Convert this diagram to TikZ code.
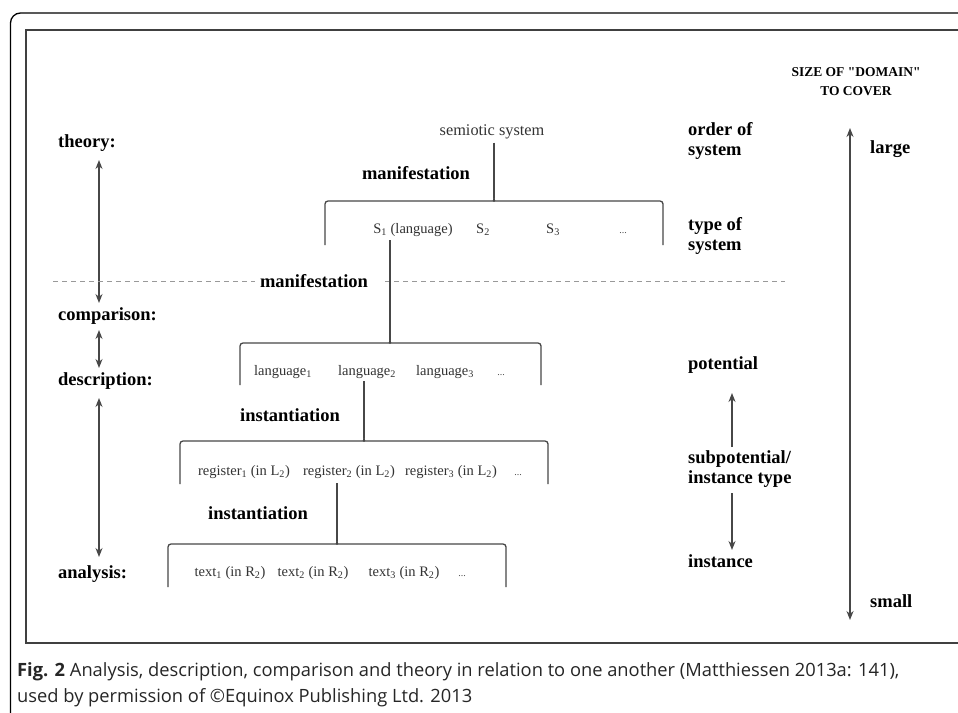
\documentclass[tikz,border=0pt]{standalone}
\usepackage{fontspec}
\setmainfont{Liberation Serif}
\newfontfamily\capfont{Open Sans}
\usetikzlibrary{arrows.meta}
\newcommand\lblfont{\fontsize{18.5}{20}\selectfont\bfseries}
\newcommand\rowfont{\fontsize{14.5}{16}\selectfont}
\newcommand\semfont{\fontsize{16.3}{17}\selectfont}
\newcommand\headfont{\fontsize{13.5}{19}\selectfont\bfseries}
\newcommand\sqt{\XeTeXglyph\XeTeXcharglyph"22\relax}
\newcommand\brkt[5]{%
  \draw[ln,rounded corners=3] (#1,#4) -- (#1,#3) -- (#5-3,#3) .. controls (#5-1,#3) and (#5,#3-1) .. (#5,#3-3);
  \draw[ln,rounded corners=3] (#2,#4) -- (#2,#3) -- (#5+3,#3) .. controls (#5+1,#3) and (#5,#3-1) .. (#5,#3-3);}
\begin{document}
\begin{tikzpicture}[x=1pt,y=-1pt,
  lbl/.style={font=\lblfont, inner sep=0, anchor=base west, text=black},
  mid/.style={font=\lblfont, inner sep=0, anchor=base, text=black},
  item/.style={font=\rowfont, inner sep=0, anchor=base, text=black!80},
  dots/.style={font=\fontsize{10}{12}\selectfont, inner sep=0, anchor=base, text=black!70},
  ln/.style={line width=1.3pt, draw=black!72},
  arr/.style={line width=1.3pt, draw=black!72, -{Stealth[length=9pt,width=7pt]}},
  arrs/.style={line width=1.3pt, draw=black!72, {Stealth[length=9pt,width=7pt]}-{Stealth[length=9pt,width=7pt]}},
  dsh/.style={line width=0.9pt, draw=black!40, dash pattern=on 5pt off 4pt}]
\useasboundingbox (0,0) rectangle (958,712);
\fill[white] (0,0) rectangle (958,712);
% frames
\draw[line width=1.3pt, rounded corners=10] (10.5,13) rectangle (1000,760);
\draw[line width=2pt, draw=black!75] (26,30) rectangle (1000,643);

% left labels
\node[lbl] (theory) at (58,147) {theory:};
\node[lbl] (comparison) at (58,320) {comparison:};
\node[lbl] (description) at (58,385) {description:};
\node[lbl] (analysis) at (58,578) {analysis:};
\coordinate (la1) at (99,160); \coordinate (la2) at (99,303);
\coordinate (la3) at (99,330); \coordinate (la4) at (99,368);
\coordinate (la5) at (99,398); \coordinate (la6) at (99,557);
\draw[arrs] (la1) -- (la2);
\draw[arrs] (la3) -- (la4);
\draw[arrs] (la5) -- (la6);

% level 1
\node[item, font=\semfont] (sem) at (492,135) {semiotic system};
\node[mid] (man1) at (416,179) {manifestation};
\coordinate (b1j) at (494,201);
\draw[ln] (sem.south -| b1j) ++(0,4) -- ([yshift=3pt]b1j);
\brkt{325}{663}{201}{245}{494}
\node[item] (s1) at (413,233) {S\textsubscript{1} (language)};
\node[item] (s2) at (483,233) {S\textsubscript{2}};
\node[item] (s3) at (553,233) {S\textsubscript{3}};
\node[dots] (s4) at (623,233) {...};

% dashed line and manifestation
\node[mid] (man2) at (314,287) {manifestation};
\coordinate (dl) at (53,281); \coordinate (dr) at (785,281);
\draw[dsh] (dl) -- ([xshift=-5pt]dl -| man2.west);
\draw[dsh] ([xshift=17pt]dl -| man2.east) -- (dr);

% level 2
\coordinate (b2j) at (390,343);
\draw[ln] (390,240) -- ([yshift=3pt]b2j);
\brkt{240}{541}{343}{385}{390}
\node[item] (l1) at (283,375) {language\textsubscript{1}};
\node[item] (l2) at (367,375) {language\textsubscript{2}};
\node[item] (l3) at (445,375) {language\textsubscript{3}};
\node[dots] (l4) at (501,375) {...};

% level 3
\node[mid] (inst1) at (290,421) {instantiation};
\coordinate (b3j) at (364,441);
\draw[ln] (l2.south -| b3j) ++(0,3) -- ([yshift=3pt]b3j);
\brkt{180}{548}{441}{484}{364}
\node[item] (r1) at (244,475) {register\textsubscript{1} (in L\textsubscript{2})};
\node[item] (r2) at (349,475) {register\textsubscript{2} (in L\textsubscript{2})};
\node[item] (r3) at (451,475) {register\textsubscript{3} (in L\textsubscript{2})};
\node[dots] (r4) at (518,475) {...};

% level 4
\node[mid] (inst2) at (258,519) {instantiation};
\coordinate (b4j) at (337,544);
\draw[ln] (r2.south -| b4j) ++(0,5) -- ([yshift=3pt]b4j);
\brkt{168}{506}{544}{587}{337}
\node[item] (t1) at (230,576) {text\textsubscript{1} (in R\textsubscript{2})};
\node[item] (t2) at (313,576) {text\textsubscript{2} (in R\textsubscript{2})};
\node[item] (t3) at (404,576) {text\textsubscript{3} (in R\textsubscript{2})};
\node[dots] (t4) at (462,576) {...};

% right column (base anchor = last line)
\node[lbl, align=left] (order) at (688,155) {order of\\system};
\node[lbl, align=left] (type) at (688,250) {type of\\system};
\node[lbl] (potential) at (688,369) {potential};
\node[lbl, align=left] (subp) at (688,483) {subpotential/\\instance type};
\node[lbl] (instance) at (688,567) {instance};
\coordinate (ra1) at (732,447); \coordinate (ra2) at (732,393);
\coordinate (ra3) at (732,493); \coordinate (ra4) at (732,550);
\draw[arr] (ra1) -- (ra2);
\draw[arr] (ra3) -- (ra4);

% size of domain
\node[font=\headfont, inner sep=0, anchor=base, align=center] (head) at (856,95) {SIZE OF \sqt DOMAIN\sqt\\TO COVER};
\coordinate (ba1) at (850,128); \coordinate (ba2) at (850,620);
\draw[arrs] (ba1) -- (ba2);
\node[lbl] (large) at (870,153) {large};
\node[lbl] (small) at (870,607) {small};

% caption
\node[font=\capfont\fontsize{18.3}{26}\selectfont, inner sep=0, anchor=base west, align=left, text=black!85] (cap) at (17,702)
  {\textbf{Fig. 2} Analysis, description, comparison and theory in relation to one another (Matthiessen 2013a: 141),\\used by permission of ©Equinox Publishing Ltd. 2013};
\end{tikzpicture}
\end{document}
